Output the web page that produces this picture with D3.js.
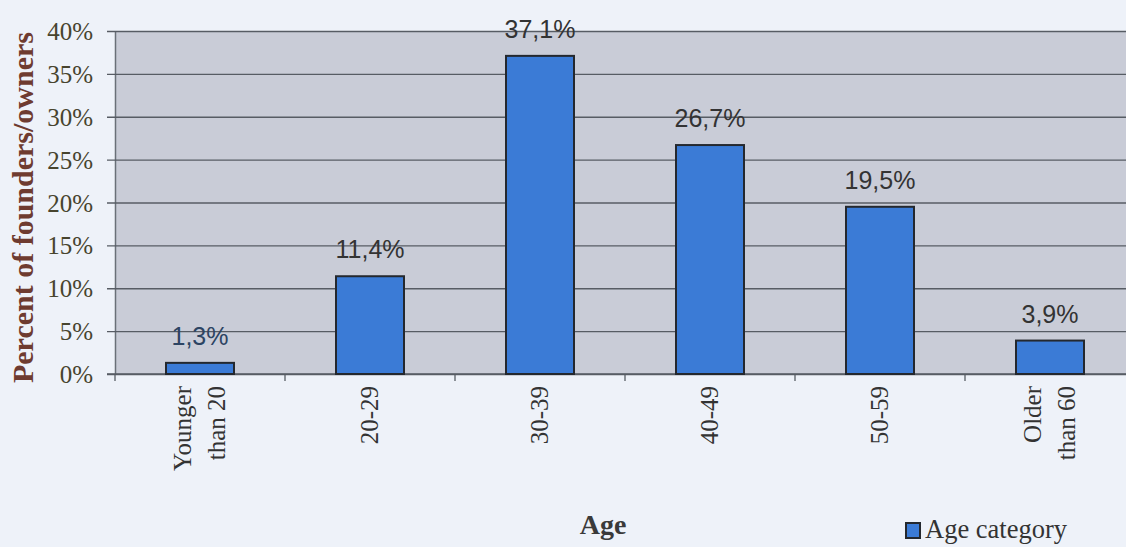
<!DOCTYPE html>
<html>
<head>
<meta charset="utf-8">
<script src="https://cdn.jsdelivr.net/npm/d3@7"></script>
<style>
  html, body { margin: 0; padding: 0; background: #eef2f9; }
  svg { display: block; }
</style>
</head>
<body>
<svg id="chart" width="1126" height="547"></svg>
<script>
// Share of founders/owners by age group
const categories = ["Younger\nthan 20", "20-29", "30-39", "40-49", "50-59", "Older\nthan 60"];
const values = [1.3, 11.4, 37.1, 26.7, 19.5, 3.9];
const valueLabels = ["1,3%", "11,4%", "37,1%", "26,7%", "19,5%", "3,9%"];
const yTicks = [0, 5, 10, 15, 20, 25, 30, 35, 40];
const yTickLabels = ["0%", "5%", "10%", "15%", "20%", "25%", "30%", "35%", "40%"];
const seriesName = "Age category";
const xTitle = "Age";
const yTitle = "Percent of founders/owners";

const svg = d3.select("#chart");
const W = 1126, H = 547;
const plot = { left: 115, right: 1135, top: 31, bottom: 374 };

const serif = "'Liberation Serif', 'Times New Roman', serif";
const sans = "'Liberation Sans', Arial, sans-serif";

svg.append("rect").attr("width", W).attr("height", H).attr("fill", "#eef2f9");

const x = d3.scaleBand()
  .domain(categories)
  .range([plot.left, plot.right])
  .paddingInner(0.6)
  .paddingOuter(0.3);

const y = d3.scaleLinear().domain([0, 40]).range([plot.bottom, plot.top]);

// plot background
svg.append("rect")
  .attr("x", plot.left).attr("y", plot.top)
  .attr("width", plot.right - plot.left).attr("height", plot.bottom - plot.top)
  .attr("fill", "#c9ccd7");

// y axis with gridlines
const yAxis = d3.axisLeft(y)
  .tickValues(yTicks)
  .tickFormat((d, i) => yTickLabels[i])
  .tickSizeInner(-(plot.right - plot.left))
  .tickSizeOuter(0)
  .tickPadding(22);

const gy = svg.append("g").attr("transform", `translate(${plot.left},0)`).call(yAxis);
gy.select(".domain").attr("stroke", "#6a7078").attr("stroke-width", 1.5);
gy.selectAll(".tick line")
  .attr("x1", -8)
  .attr("stroke", "#575c64").attr("stroke-width", 1.3);
gy.selectAll(".tick text")
  .attr("font-family", serif).attr("font-size", 25)
  .attr("fill", "#47442e").attr("dy", "0.34em");

// x axis
const boundaries = categories.map(c => x(c) - x.step() * x.paddingInner() / 2).concat([plot.right]);
const gx = svg.append("g");
gx.append("line")
  .attr("x1", plot.left - 8).attr("x2", plot.right)
  .attr("y1", y(0)).attr("y2", y(0))
  .attr("stroke", "#575c64").attr("stroke-width", 1.5);
gx.selectAll("line.tk").data(boundaries).join("line")
  .attr("class", "tk")
  .attr("x1", d => d).attr("x2", d => d)
  .attr("y1", y(0)).attr("y2", y(0) + 7)
  .attr("stroke", "#575c64").attr("stroke-width", 1.3);

// bars
svg.append("g").selectAll("rect").data(values).join("rect")
  .attr("x", (d, i) => x(categories[i]))
  .attr("width", x.bandwidth())
  .attr("y", d => y(d))
  .attr("height", d => y(0) - y(d))
  .attr("fill", "#3b7bd6")
  .attr("stroke", "#24282e").attr("stroke-width", 2);

// value labels
svg.append("g").selectAll("text").data(values).join("text")
  .attr("x", (d, i) => x(categories[i]) + x.bandwidth() / 2)
  .attr("y", d => y(d) - 18)
  .attr("text-anchor", "middle")
  .attr("font-family", sans).attr("font-size", 25)
  .attr("fill", (d, i) => i === 0 ? "#2c4463" : "#333333")
  .text((d, i) => valueLabels[i]);

// rotated category labels
const catG = svg.append("g").selectAll("g").data(categories).join("g")
  .attr("transform", d => `translate(${x(d) + x.bandwidth() / 2},386) rotate(-90)`);
catG.each(function (d) {
  const lines = d.split("\n");
  const lh = 34;
  const t = d3.select(this).append("text")
    .attr("text-anchor", "end")
    .attr("font-family", serif).attr("font-size", 25)
    .attr("fill", "#333333");
  lines.forEach((ln, j) => {
    t.append("tspan")
      .attr("x", 0)
      .attr("y", (j - (lines.length - 1) / 2) * lh + 8)
      .text(ln);
  });
});

// axis titles
svg.append("text")
  .attr("x", 603).attr("y", 534)
  .attr("text-anchor", "middle")
  .attr("font-family", serif).attr("font-size", 28).attr("font-weight", "bold")
  .attr("fill", "#3a3a3a")
  .text(xTitle);

svg.append("text")
  .attr("transform", `translate(33,${(plot.top + plot.bottom) / 2 + 5}) rotate(-90)`)
  .attr("text-anchor", "middle")
  .attr("font-family", serif).attr("font-size", 30).attr("font-weight", "bold")
  .attr("fill", "#6e3b30")
  .text(yTitle);

// legend
const lg = svg.append("g").attr("transform", "translate(906,523)");
lg.append("rect").attr("width", 14).attr("height", 15)
  .attr("fill", "#3b7bd6").attr("stroke", "#24282e").attr("stroke-width", 2);
lg.append("text").attr("x", 19).attr("y", 15)
  .attr("font-family", serif).attr("font-size", 26.5)
  .attr("fill", "#333333")
  .text(seriesName);
</script>
</body>
</html>
